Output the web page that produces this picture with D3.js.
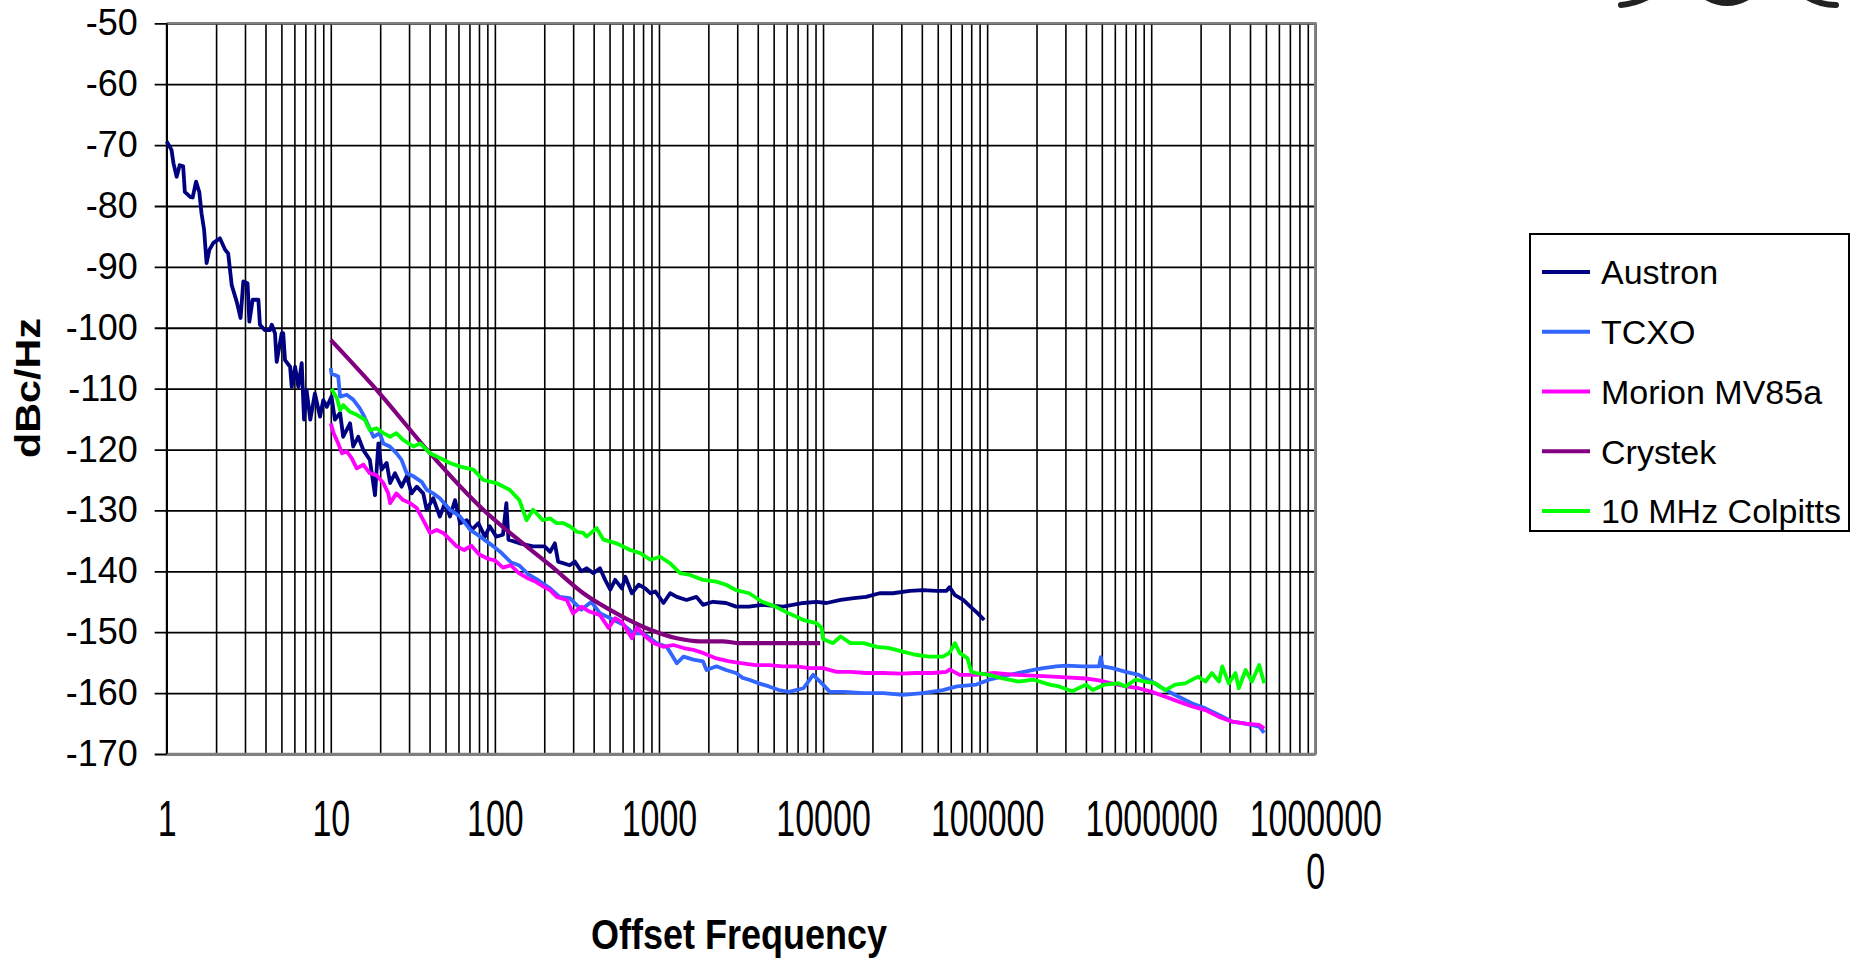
<!DOCTYPE html>
<html>
<head>
<meta charset="utf-8">
<script src="https://cdn.jsdelivr.net/npm/d3@7"></script>
<style>
  body { margin: 0; background: #fff; }
  svg { display: block; font-family: "Liberation Sans", Arial, sans-serif; }
</style>
</head>
<body>
<div id="chart"></div>
<script>
// phase noise readings, [offset Hz, dBc/Hz]
const austron = [
  [1,-69.4],[1.07,-70.8],[1.1,-73],[1.15,-75.2],[1.2,-73.3],[1.26,-73.5],[1.29,-77.7],[1.39,-78.5],
  [1.44,-78.6],[1.51,-76],[1.58,-77.7],[1.63,-81.2],[1.69,-83.9],[1.75,-89.4],[1.82,-87.2],[1.92,-86.1],
  [2.11,-85.3],[2.27,-87.2],[2.37,-87.8],[2.49,-93],[2.67,-95.7],[2.82,-98.4],[2.93,-92.4],[3.11,-92.7],
  [3.19,-99],[3.34,-95.4],[3.62,-95.4],[3.7,-99.5],[3.97,-100.4],[4.26,-100.4],[4.37,-99.5],[4.57,-100.9],
  [4.68,-105.6],[5.02,-100.9],[5.13,-100.9],[5.26,-105.3],[5.65,-106.4],[5.78,-109.7],[6.06,-106.4],
  [6.34,-109.7],[6.65,-105.8],[6.87,-115.1],[7.12,-110.2],[7.5,-115.1],[8.0,-110.8],[8.6,-114.6],
  [9.0,-111.9],[9.45,-113],[10.1,-111.3],[10.6,-115.1],[11.4,-114],[11.9,-117.9],[13.1,-115.7],
  [13.7,-119.5],[14.7,-117.9],[15.8,-120.1],[17.3,-121.7],[18.6,-127.5],[19.5,-119],[20.4,-123.3],
  [21.9,-122.2],[23,-125.5],[24.6,-123.9],[27,-126.1],[29,-124.4],[31.1,-127.2],[33.4,-126.1],
  [36.6,-127.2],[38.4,-129.9],[42.1,-128],[46.2,-131],[49.6,-128.8],[53.3,-131],[57.2,-128.3],
  [61.4,-132.1],[67.4,-131.6],[72.4,-133.2],[79.2,-132.1],[87,-134.3],[93,-132.6],[102,-134.3],
  [112,-134],[117.5,-128.8],[121,-134.8],[141,-135.4],[171,-135.9],[201,-135.9],[217,-136.8],
  [232,-135.4],[243,-138.4],[286,-139],[307,-138.4],[336,-140],[362,-139.5],[398,-140.3],[437,-139.5],
  [470,-141.4],[505,-143],[541,-141.4],[594,-142.8],[624,-140.9],[684,-143.6],[752,-142.2],[825,-142.8],
  [886,-143.6],[950,-143.3],[1065,-145.2],[1170,-143.6],[1285,-144.2],[1473,-144.7],[1692,-144.2],
  [1855,-145.5],[2130,-145],[2562,-145.2],[2950,-145.8],[3543,-145.8],[4260,-145.5],[5700,-145.8],
  [7600,-145.2],[9120,-145],[10500,-145.2],[12800,-144.7],[15400,-144.4],[18300,-144.2],[22100,-143.6],
  [26600,-143.6],[33800,-143.2],[40600,-143.1],[49000,-143.2],[56600,-143.2],[59000,-142.6],
  [63600,-143.9],[71500,-144.7],[79000,-145.8],[87800,-146.9],[95900,-148]
];

const tcxo = [
  [10,-106.6],[10.1,-107.5],[11.1,-108],[11.4,-111.3],[12.5,-111],[13.7,-111.8],[15,-113.2],[15.8,-114.3],
  [18.2,-117.9],[19.9,-117.3],[20.9,-119],[22.9,-119.5],[25.1,-120.6],[27,-121.7],[29,-123.9],
  [31.9,-124.4],[35.8,-125.3],[38.4,-126.6],[42.1,-127.2],[46.2,-128],[53.3,-129.9],[61.4,-131],
  [70.8,-133.2],[81.5,-134.3],[98,-135.9],[110,-137],[125,-138.5],[140,-139],[160,-140.5],[185,-141.5],
  [217,-142.8],[248,-144.2],[286,-144.4],[336,-146.3],[388,-145],[437,-146.9],[505,-147.7],[609,-148.8],
  [700,-150.2],[805,-150.2],[971,-151.8],[1116,-152.4],[1285,-155.1],[1412,-154],[1620,-154.5],
  [1855,-154.8],[1950,-156.2],[2240,-155.6],[2562,-156.2],[2950,-156.7],[3240,-157.5],[3543,-157.8],
  [4070,-158.4],[4680,-158.9],[5380,-159.5],[6180,-159.8],[7600,-159.2],[8700,-157],[10000,-158.6],
  [11000,-159.8],[13400,-159.8],[17700,-160],[23300,-160],[30600,-160.3],[40600,-160],[53700,-159.5],
  [65500,-158.9],[85900,-158.6],[103000,-157.8],[136000,-157],[192000,-156.2],[220000,-155.9],
  [264000,-155.6],[302000,-155.5],[381000,-155.6],[481000,-155.6],[493000,-154.1],[505000,-155.6],
  [580000,-155.9],[700000,-156.5],[840000,-157],[920000,-157.6],[1010000,-158.1],[1220000,-159.5],
  [1470000,-160.6],[1780000,-161.7],[2140000,-162.5],[2590000,-163.6],[3120000,-164.7],[3760000,-165],
  [4550000,-165.5],[4880000,-166.5]
];

const morion = [
  [10,-115.7],[10.4,-117.3],[11.1,-119],[11.7,-120.6],[12.5,-120.3],[13.4,-121.4],[14.4,-123.1],
  [15.8,-122.5],[17.3,-123.9],[19,-124.2],[20.9,-125.5],[22.4,-127.2],[23,-128.8],[25.1,-127.2],
  [27.6,-128.3],[30.4,-128.8],[33.4,-129.6],[36.6,-131.6],[40.2,-133.7],[44.2,-133.2],[48.5,-133.7],
  [53.3,-134.8],[58.5,-135.9],[65,-136.5],[72,-135.8],[80,-137.2],[90,-137.9],[100,-138.2],[112,-139.4],
  [125,-139],[140,-140.3],[160,-141.2],[180,-141.8],[200,-142.6],[217,-143.1],[238,-144.2],[274,-144.7],
  [300,-146.9],[336,-145.8],[377,-146.6],[437,-147.2],[493,-149.3],[541,-147.7],[594,-148.3],[684,-151],
  [736,-149.2],[825,-150.7],[930,-151.8],[1065,-152.4],[1225,-152.1],[1412,-152.6],[1620,-152.9],
  [1855,-153.4],[2240,-154.3],[2690,-154.8],[3240,-155.1],[3890,-155.4],[4680,-155.4],[5700,-155.6],
  [6860,-155.6],[8300,-155.9],[10000,-155.9],[12100,-156.5],[14700,-156.5],[18300,-156.7],[23300,-156.7],
  [29800,-156.8],[36600,-156.7],[46700,-156.7],[56600,-156.5],[59000,-156.1],[68000,-157],[85900,-157],
  [110000,-156.7],[150000,-157],[220000,-157.2],[302000,-157.4],[400000,-157.6],[481000,-157.9],
  [554000,-158.3],[700000,-158.9],[840000,-159.2],[1010000,-159.8],[1220000,-160.6],[1470000,-161.4],
  [1780000,-162.2],[2140000,-162.8],[2590000,-163.9],[3120000,-164.7],[3760000,-165],[4550000,-165.2],
  [4880000,-165.8]
];

const crystek = [
  [10,-102],[19.9,-110.8],[40.2,-120.6],[85,-129.9],[156,-135.9],[217,-139],[346,-143.6],[550,-146.9],
  [886,-149.6],[1285,-151],[1770,-151.5],[2450,-151.5],[3100,-151.8],[5700,-151.8],[9600,-151.8]
];

const colpitts = [
  [10.1,-110],[10.9,-111.6],[11.4,-113.5],[11.9,-112.7],[13.1,-113.8],[14.4,-114.3],[16.1,-115.1],
  [17.3,-116.8],[19,-116.5],[20.9,-117.3],[23,-117.9],[25.1,-117.3],[27.6,-118.4],[31.9,-119.5],[35,-119],
  [40.2,-120.6],[46.2,-121.4],[53.3,-122.2],[61.4,-122.8],[74,-123.3],[85,-125],[102,-125.5],[123,-126.6],
  [141,-128.3],[156,-131.6],[171,-129.9],[196,-131.6],[217,-131.3],[238,-132.1],[262,-132.1],[286,-132.6],
  [316,-133.5],[346,-133.7],[362,-134.3],[417,-132.9],[459,-134.8],[550,-135.4],[667,-136.5],[768,-137],
  [886,-138.1],[1017,-137.6],[1170,-138.7],[1345,-140.3],[1545,-140.6],[1855,-141.4],[2240,-141.7],
  [2562,-142.2],[2950,-143.1],[3543,-143.6],[4260,-145],[5130,-145.8],[6180,-146.9],[7600,-148],
  [9120,-148.5],[9800,-149.3],[10000,-151.1],[11500,-151.8],[12800,-150.7],[14700,-151.8],[17700,-151.8],
  [21200,-152.4],[25400,-152.6],[30600,-153.2],[36600,-153.7],[44100,-154],[53700,-154],[59000,-153.4],
  [63600,-151.8],[68000,-153.4],[76000,-154.3],[80000,-156.5],[85900,-156.7],[103000,-157],[124000,-157.6],
  [136000,-157.8],[155000,-158.1],[192000,-157.8],[240000,-158.6],[274000,-158.9],[330000,-159.7],
  [400000,-158.6],[440000,-159.5],[520000,-158.6],[630000,-158.4],[700000,-158.9],[800000,-157.8],
  [920000,-158.1],[1060000,-158.4],[1220000,-159.5],[1400000,-158.6],[1610000,-158.4],[1930000,-157.3],
  [2140000,-158.1],[2340000,-156.7],[2590000,-158.1],[2710000,-155.6],[2970000,-158.4],[3260000,-156.7],
  [3420000,-159.2],[3760000,-156.2],[4110000,-158.1],[4550000,-155.4],[4880000,-158.4]
];

const seriesNames = ["Austron", "TCXO", "Morion MV85a", "Crystek", "10 MHz Colpitts"];
const seriesData = [austron, tcxo, morion, crystek, colpitts];
const seriesColors = ["#000080", "#3366ff", "#ff00ff", "#800080", "#00ff00"];

const yTicks = [-50, -60, -70, -80, -90, -100, -110, -120, -130, -140, -150, -160, -170];
const xLabels = [1, 10, 100, 1000, 10000, 100000, 1000000, 10000000];

const W = 1864, H = 963;
const plotL = 166.7, plotR = 1315.3, plotT = 23.3, plotB = 754;

const svg = d3.select("#chart").append("svg")
    .attr("width", W)
    .attr("height", H);

const x = d3.scaleLog().domain([1, 1e7]).range([plotL, plotR]);
const y = d3.scaleLinear().domain([-50, -170]).range([plotT, plotB]);

// vertical grid (every 1..9 of each decade)
svg.append("g")
    .attr("transform", `translate(0,${plotB})`)
    .call(d3.axisBottom(x).ticks(70).tickSize(-(plotB - plotT)).tickFormat(""))
    .call(g => g.select(".domain").remove())
    .call(g => g.selectAll("line").attr("stroke", "#000").attr("stroke-width", 1.6));

// horizontal grid + y labels (plain hyphen minus, as in the source)
svg.append("g")
    .attr("transform", `translate(${plotL},0)`)
    .call(d3.axisLeft(y).tickValues(yTicks).tickSize(12).tickPadding(17).tickFormat(d => String(d)))
    .call(g => g.select(".domain").remove())
    .call(g => g.selectAll("line").attr("stroke", "#000").attr("stroke-width", 1.8).attr("x2", plotR - plotL).attr("x1", -12))
    .call(g => g.selectAll("text")
        .attr("font-size", 36)
        .attr("fill", "#000")
        .attr("font-family", "'Liberation Sans', Arial, sans-serif"));

// plot frame: grey top/right/bottom, black left axis
svg.append("path")
    .attr("d", `M${plotL},${plotT}H${plotR}V${plotB}H${plotL}`)
    .attr("fill", "none")
    .attr("stroke", "#808080")
    .attr("stroke-width", 2.5);
svg.append("line")
    .attr("x1", plotL).attr("x2", plotL)
    .attr("y1", plotT).attr("y2", plotB)
    .attr("stroke", "#000").attr("stroke-width", 1.8);

// x labels (stretched vertically like the source)
const sy = 1.45;
const xAxis = svg.append("g")
    .attr("transform", `translate(0,${plotB})`)
    .call(d3.axisBottom(x).tickValues(xLabels).tickSize(0).tickFormat(d3.format("d")))
    .call(g => g.select(".domain").remove());
xAxis.selectAll("text")
    .attr("font-size", 34)
    .attr("fill", "#000")
    .attr("font-family", "'Liberation Sans', Arial, sans-serif")
    .attr("transform", `scale(1,${sy})`)
    .attr("y", 64 / sy)
    .attr("dy", "0.36em")
    .each(function(d) {
        const s = d3.format("d")(d);
        if (s.length > 7) {
            const t = d3.select(this).text(null);
            t.append("tspan").attr("x", 0).attr("y", 64 / sy).attr("dy", "0.36em").text(s.slice(0, 7));
            t.append("tspan").attr("x", 0).attr("y", 117 / sy).attr("dy", "0.36em").text(s.slice(7));
        }
    });

// series
const line = d3.line().x(d => x(d[0])).y(d => y(d[1]));
const smooth = d3.line().x(d => x(d[0])).y(d => y(d[1])).curve(d3.curveMonotoneX);

svg.append("g")
    .selectAll("path")
    .data(seriesData)
    .join("path")
    .attr("d", (d, i) => seriesNames[i] === "Crystek" ? smooth(d) : line(d))
    .attr("fill", "none")
    .attr("stroke", (d, i) => seriesColors[i])
    .attr("stroke-width", (d, i) => seriesNames[i] === "Crystek" ? 4.2 : 3.8)
    .attr("stroke-linejoin", "round");

// axis titles
svg.append("text")
    .attr("transform", `translate(739,933) scale(1,1.2)`)
    .attr("text-anchor", "middle")
    .attr("dy", "0.36em")
    .attr("font-size", 36)
    .attr("font-weight", "bold")
    .text("Offset Frequency");

svg.append("text")
    .attr("transform", `translate(27,388) rotate(-90) scale(1.18,1)`)
    .attr("text-anchor", "middle")
    .attr("dy", "0.36em")
    .attr("font-size", 35)
    .attr("font-weight", "bold")
    .text("dBc/Hz");

// legend
const legend = svg.append("g");
legend.append("rect")
    .attr("x", 1530).attr("y", 234)
    .attr("width", 319).attr("height", 297)
    .attr("fill", "#fff")
    .attr("stroke", "#000")
    .attr("stroke-width", 2);

const ly = d3.scalePoint().domain(seriesNames).range([272, 511]);
const item = legend.selectAll("g.item")
    .data(seriesNames)
    .join("g")
    .attr("class", "item")
    .attr("transform", d => `translate(0,${ly(d)})`);
item.append("line")
    .attr("x1", 1542).attr("x2", 1590)
    .attr("stroke", (d, i) => seriesColors[i])
    .attr("stroke-width", 4);
item.append("text")
    .attr("x", 1601)
    .attr("dy", "0.36em")
    .attr("font-size", 34)
    .text(d => d);

// bits of a cropped logo at the top right edge
svg.append("g")
    .attr("fill", "none")
    .attr("stroke", "#222")
    .attr("stroke-width", 6)
    .attr("stroke-linecap", "round")
    .selectAll("path")
    .data(["M1621,5 Q1634,4 1648,-3", "M1706,-3 Q1727,9 1748,-3", "M1807,-3 Q1820,5 1836,5"])
    .join("path")
    .attr("d", d => d);
</script>
</body>
</html>
